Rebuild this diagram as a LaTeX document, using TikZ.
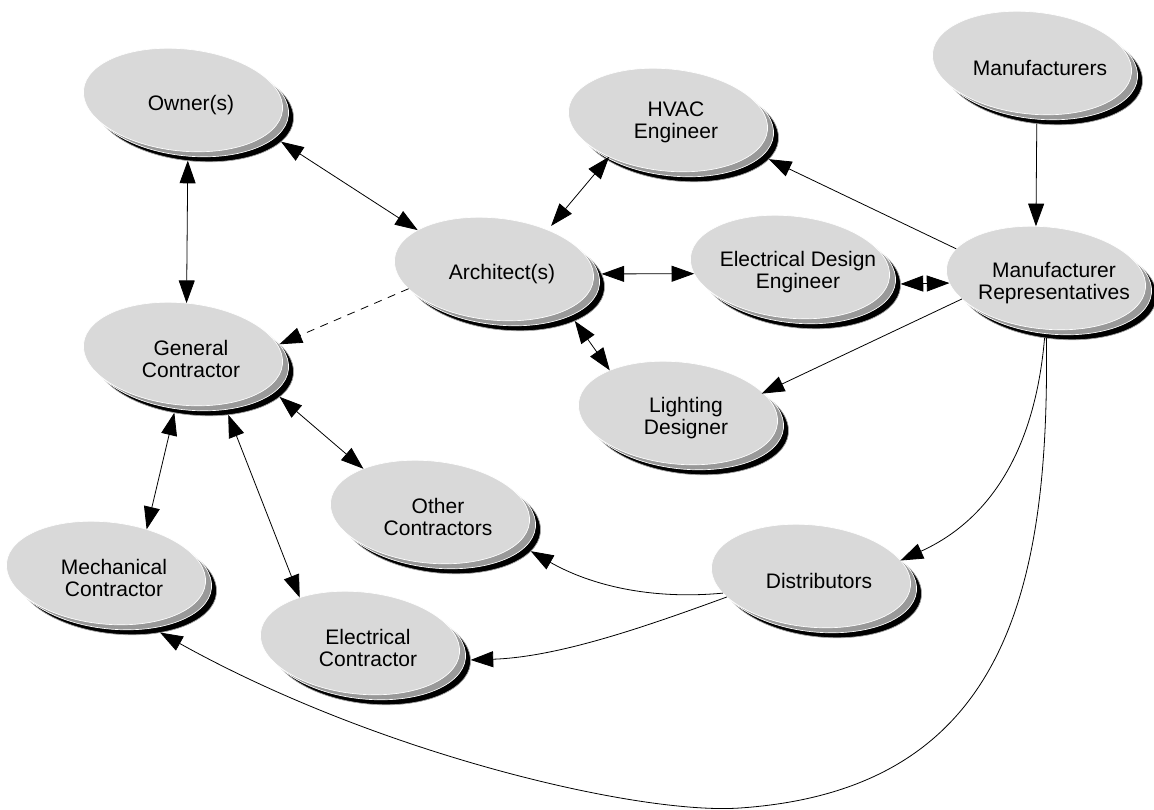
\documentclass[tikz,border=0pt]{standalone}
\usepackage{fontspec}
\setmainfont{Liberation Sans}
\usetikzlibrary{arrows.meta,shadows,shapes.geometric}

\definecolor{bubblefill}{RGB}{217,217,217}
\definecolor{bubblerim}{RGB}{153,153,153}

\tikzset{
  bubble/.style={ellipse, minimum width=150pt, minimum height=76.5pt, inner sep=0pt, outer sep=0pt,
    rotate=-6, fill=bubblefill, draw=white, line width=0.5pt,
    general shadow={fill=black, draw=black!35, line width=0.5pt, shadow xshift=8.25pt, shadow yshift=-7.5pt},
    general shadow={fill=bubblerim, draw=white, line width=0.5pt, shadow xshift=4.5pt, shadow yshift=-3.75pt}},
  caption/.style={align=center, xshift=6pt, yshift=-3.5pt, font=\fontsize{15.75}{16.5}\selectfont},
  oneway/.style={line width=0.6pt, -{Triangle[length=17pt,width=12pt]}},
  twoway/.style={line width=0.6pt, {Triangle[length=17pt,width=12pt]}-{Triangle[length=17pt,width=12pt]}}
}

\begin{document}
\begin{tikzpicture}[x=0.75pt,y=0.75pt,yscale=-1,xscale=1]
\useasboundingbox (0,0) rectangle (1154,810);

%Shape: Ellipse
\node[bubble] (owner) at (183,100) {};
\node[bubble] (hvac) at (668,120) {};
\node[bubble] (mfr) at (1032,63) {};
\node[bubble] (arch) at (494,269) {};
\node[bubble] (ede) at (790,267) {};
\node[bubble] (rep) at (1046,278) {};
\node[bubble] (gc) at (183,354) {};
\node[bubble] (light) at (678,413) {};
\node[bubble] (other) at (430,512) {};
\node[bubble] (mech) at (106,573) {};
\node[bubble] (dist) at (811,576) {};
\node[bubble] (elec) at (360,643) {};

% Text Node
\node[caption] (owner-t) at (owner) {Owner(s)};
\node[caption, yshift=1.5pt] (hvac-t) at (hvac) {HVAC\\Engineer};
\node[caption] (mfr-t) at (mfr) {Manufacturers};
\node[caption] (arch-t) at (arch) {Architect(s)};
\node[caption] (ede-t) at (ede) {Electrical Design\\Engineer};
\node[caption] (rep-t) at (rep) {Manufacturer\\Representatives};
\node[caption] (gc-t) at (gc) {General\\Contractor};
\node[caption] (light-t) at (light) {Lighting\\Designer};
\node[caption] (other-t) at (other) {Other\\Contractors};
\node[caption] (mech-t) at (mech) {Mechanical\\Contractor};
\node[caption] (dist-t) at (dist) {Distributors};
\node[caption] (elec-t) at (elec) {Electrical\\Contractor};

%Straight Lines
\draw[twoway] ([shift={(11,10)}]owner.-91) -- (gc.92);
\draw[twoway] ([shift={(11,10)}]owner.-14) -- (arch.159);
\draw[twoway, shorten <=4pt] (arch.42) -- (hvac.-142);
\draw[twoway] ([shift={(11,10)}]arch.9) -- (ede.190);
\draw[twoway] ([shift={(11,10)}]arch.-25) -- (light.154);
\draw[oneway, dash pattern=on 6pt off 5pt] (arch.199) -- ([shift={(11,10)}]gc.19);
\draw[twoway] ([shift={(11,10)}]ede.2) -- (rep.189);
\draw[oneway] ([shift={(11,10)}]mfr.-91) -- (rep.107);
\draw[oneway] (rep.168) -- ([shift={(11,10)}]hvac.-12);
\draw[oneway] (rep.-160) -- ([shift={(11,10)}]light.28);
\draw[twoway] ([shift={(11,10)}]gc.-15) -- (other.153);
\draw[twoway] ([shift={(11,10)}]gc.-106) -- (mech.53);
\draw[twoway] ([shift={(11,10)}]gc.-50) -- (elec.149);

%Curve Lines
\draw[oneway] ([shift={(11,10)}]rep.-98) .. controls (1035,450) and (990,520) .. ([shift={(11,10)}]dist.24);
\draw[oneway] ([shift={(11,10)}]rep.-96) .. controls (1050,600) and (1000,790) .. (740,808) .. controls (640,815) and (380,755) .. ([shift={(11,10)}]mech.-43);
\draw[oneway] (dist.-163) .. controls (650,600) and (590,585) .. ([shift={(11,10)}]other.-12);
\draw[oneway] (dist.-160) .. controls (650,625) and (560,657) .. ([shift={(11,10)}]elec.2);

\end{tikzpicture}
\end{document}
